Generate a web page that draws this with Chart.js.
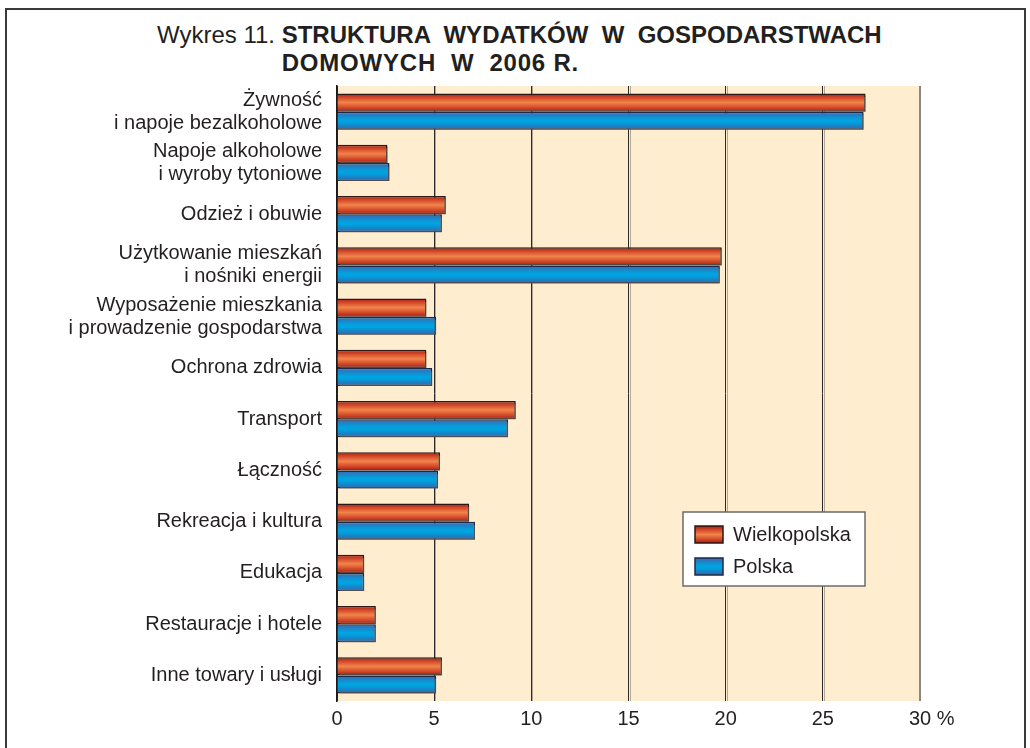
<!DOCTYPE html>
<html>
<head>
<meta charset="utf-8">
<script src="https://cdn.jsdelivr.net/npm/chart.js@4.4.1/dist/chart.umd.min.js"></script>
<style>
  body { margin: 0; background: #fff; }
  #wrap { position: relative; width: 1030px; height: 748px; font-family: 'Liberation Sans', Arial, sans-serif; color: #231f20; }
  #frame { position: absolute; left: 5px; top: 8px; width: 1017px; height: 740px; border: 2px solid #3a3a3a; border-bottom: none; }
  #title { position: absolute; left: 157px; top: 21px; font-size: 24px; line-height: 28px; white-space: pre; }
  #title .b { display: inline-block; vertical-align: top; font-weight: bold; }
  #title .l2 { letter-spacing: 0.8px; }
  canvas { position: absolute; left: 0; top: 0; }
</style>
</head>
<body>
<div id="wrap">
  <div id="frame"></div>
  <div id="title">Wykres 11. <span class="b">STRUKTURA  WYDATKÓW  W  GOSPODARSTWACH
<span class="l2">DOMOWYCH  W  2006 R.</span></span></div>
  <canvas id="chart" width="1030" height="748"></canvas>
</div>
<script>
const categories = [
  ['Żywność', 'i napoje bezalkoholowe'],
  ['Napoje alkoholowe', 'i wyroby tytoniowe'],
  'Odzież i obuwie',
  ['Użytkowanie mieszkań', 'i nośniki energii'],
  ['Wyposażenie mieszkania', 'i prowadzenie gospodarstwa'],
  'Ochrona zdrowia',
  'Transport',
  'Łączność',
  'Rekreacja i kultura',
  'Edukacja',
  'Restauracje i hotele',
  'Inne towary i usługi'
];
const wielkopolska = [27.2, 2.6, 5.6, 19.8, 4.6, 4.6, 9.2, 5.3, 6.8, 1.4, 2.0, 5.4];
const polska = [27.1, 2.7, 5.4, 19.7, 5.1, 4.9, 8.8, 5.2, 7.1, 1.4, 2.0, 5.1];
const xTicks = [0, 5, 10, 15, 20, 25, 30];

const FONT = '"Liberation Sans", Arial, sans-serif';
const CAT_PCT = 0.71;
const redStops = [[0, '#a51c14'], [0.2, '#cf4326'], [0.5, '#f2844a'], [0.8, '#d04526'], [1, '#a51c14']];
const blueStops = [[0, '#3b66ae'], [0.45, '#00a3e1'], [0.6, '#00a0de'], [1, '#3563ab']];

function barGradient(stops, fallback) {
  return function (c) {
    const chart = c.chart;
    if (!chart.chartArea || c.type !== 'data') return fallback;
    const y = chart.scales.y;
    const mid = y.getPixelForValue(c.dataIndex);
    const h = y.height / categories.length * CAT_PCT / 2;
    const top = c.datasetIndex === 0 ? mid - h : mid;
    const g = chart.ctx.createLinearGradient(0, top, 0, top + h);
    stops.forEach(s => g.addColorStop(s[0], s[1]));
    return g;
  };
}

// peach plot background
const plotBg = {
  id: 'plotBg',
  beforeDraw(chart) {
    const {ctx, chartArea: a} = chart;
    ctx.save();
    ctx.fillStyle = '#ffedd0';
    ctx.fillRect(a.left, a.top, a.right - a.left, a.bottom - a.top);
    ctx.restore();
  }
};

// grey shadow next to grid lines and under bars
const shadows = {
  id: 'shadows',
  beforeDatasetsDraw(chart) {
    const {ctx, chartArea: a} = chart;
    const x = chart.scales.x;
    ctx.save();
    ctx.strokeStyle = 'rgba(120,110,100,0.55)';
    ctx.lineWidth = 1;
    xTicks.slice(1, -1).forEach(v => {
      const px = Math.round(x.getPixelForValue(v)) + 1.5;
      ctx.beginPath();
      ctx.moveTo(px, a.top);
      ctx.lineTo(px, a.bottom);
      ctx.stroke();
    });
    ctx.restore();
    ctx.save();
    ctx.shadowColor = 'rgba(110,100,90,0.6)';
    ctx.shadowOffsetX = 2;
    ctx.shadowOffsetY = 2;
    ctx.shadowBlur = 0;
  },
  afterDatasetsDraw(chart) {
    chart.ctx.restore();
  }
};

// legend box inside the plot + the "%" after 30
const extras = {
  id: 'extras',
  afterDraw(chart) {
    const {ctx, chartArea: a} = chart;
    const x = chart.scales.x;
    ctx.save();
    ctx.font = '20px ' + FONT;
    ctx.fillStyle = '#231f20';
    ctx.textBaseline = 'middle';
    ctx.textAlign = 'left';
    const last = xTicks[xTicks.length - 1];
    ctx.fillText(' %', x.getPixelForValue(last) + ctx.measureText(String(last)).width / 2, x.top + 6 + 12);

    const bx = a.right - 237, by = a.top + 426, bw = 182, bh = 74;
    ctx.fillStyle = '#ffffff';
    ctx.fillRect(bx, by, bw, bh);
    ctx.strokeStyle = '#6e6a66';
    ctx.lineWidth = 1.5;
    ctx.strokeRect(bx, by, bw, bh);
    chart.data.datasets.forEach((ds, i) => {
      const sy = by + 14 + i * 32;
      const g = ctx.createLinearGradient(0, sy, 0, sy + 17);
      (i === 0 ? redStops : blueStops).forEach(s => g.addColorStop(s[0], s[1]));
      ctx.fillStyle = g;
      ctx.fillRect(bx + 12, sy, 28, 17);
      ctx.strokeStyle = ds.borderColor;
      ctx.lineWidth = 1.5;
      ctx.strokeRect(bx + 12, sy, 28, 17);
      ctx.fillStyle = '#231f20';
      ctx.fillText(ds.label, bx + 50, sy + 9);
    });
    ctx.restore();
  }
};

new Chart(document.getElementById('chart').getContext('2d'), {
  type: 'bar',
  data: {
    labels: categories,
    datasets: [
      {
        label: 'Wielkopolska',
        data: wielkopolska,
        backgroundColor: barGradient(redStops, '#e0603a'),
        borderColor: '#2b1916',
        borderWidth: 1.5,
        borderSkipped: 'start'
      },
      {
        label: 'Polska',
        data: polska,
        backgroundColor: barGradient(blueStops, '#1890d0'),
        borderColor: '#1e2a45',
        borderWidth: 1.5,
        borderSkipped: 'start'
      }
    ]
  },
  options: {
    indexAxis: 'y',
    responsive: false,
    animation: false,
    datasets: { bar: { barPercentage: 1, categoryPercentage: CAT_PCT } },
    layout: { padding: { top: 86, right: 110, left: 0, bottom: 0 } },
    plugins: { legend: { display: false }, tooltip: { enabled: false } },
    scales: {
      x: {
        min: 0,
        max: 30,
        afterBuildTicks: s => { s.ticks = xTicks.map(v => ({ value: v })); },
        afterFit: s => { s.height = 47; },
        border: { display: false },
        grid: {
          drawTicks: false,
          color: c => c.tick && c.tick.value === 30 ? '#8c8680' : '#2a2a2a',
          lineWidth: c => c.tick && c.tick.value === 30 ? 2 : 1
        },
        ticks: {
          padding: 6,
          color: '#231f20',
          font: { family: FONT, size: 20 }
        }
      },
      y: {
        afterFit: s => { s.width = 337; },
        grid: { display: false, drawTicks: false },
        border: { display: true, color: '#1a1a1a', width: 1.5 },
        ticks: {
          padding: 15,
          color: '#231f20',
          font: { family: FONT, size: 20, lineHeight: 1.15 }
        }
      }
    }
  },
  plugins: [plotBg, shadows, extras]
});
</script>
</body>
</html>
